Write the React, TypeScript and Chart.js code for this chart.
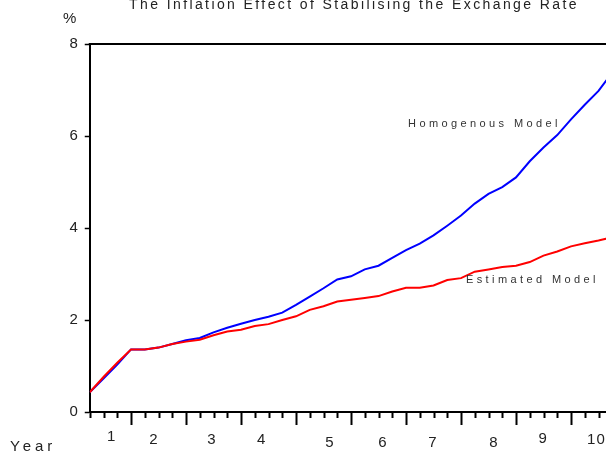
import React, { useEffect, useRef } from "react";
import { Chart, registerables } from "chart.js";

Chart.register(...registerables);

// ---- data (quarters since start; index 0 = first quarter) ----
const quarters: number[] = Array.from({ length: 39 }, (_, i) => i);
const homogenous: number[] = [
  0.43, 0.73, 1.03, 1.36, 1.36, 1.4, 1.48, 1.56, 1.61, 1.73, 1.83, 1.92, 2.0,
  2.07, 2.16, 2.33, 2.51, 2.69, 2.88, 2.95, 3.1, 3.18, 3.35, 3.52, 3.66, 3.84,
  4.05, 4.27, 4.53, 4.74, 4.89, 5.1, 5.45, 5.75, 6.02, 6.36, 6.68, 6.98, 7.38,
];
const estimated: number[] = [
  0.43, 0.76, 1.07, 1.36, 1.36, 1.4, 1.48, 1.53, 1.57, 1.67, 1.75, 1.79, 1.87,
  1.91, 2.0, 2.08, 2.22, 2.3, 2.4, 2.44, 2.48, 2.52, 2.62, 2.7, 2.7, 2.75,
  2.87, 2.91, 3.05, 3.1, 3.15, 3.18, 3.26, 3.4, 3.49, 3.6, 3.67, 3.73, 3.8,
];
const yearLabels: string[] = ["1", "2", "3", "4", "5", "6", "7", "8", "9", "10"];
const yearLabelAt: number[] = [1.6, 4.67, 8.89, 12.5, 17.47, 21.33, 24.96, 29.4, 32.97, 36.85];
const yTicks: number[] = [0, 2, 4, 6, 8];
const titleText = "The Inflation Effect of Stabilising the Exchange Rate";
const seriesNames: string[] = ["Estimated Model", "Homogenous Model"];

const FONT = '"Liberation Sans", Arial, sans-serif';

const overlay = {
  id: "overlay",
  afterDraw(chart: any) {
    const { ctx, chartArea } = chart;
    const x = chart.scales.x;
    const y = chart.scales.y;
    ctx.save();
    // top frame line
    ctx.strokeStyle = "#000";
    ctx.lineWidth = 2;
    ctx.beginPath();
    ctx.moveTo(chartArea.left - 1, chartArea.top);
    ctx.lineTo(chartArea.right + 10, chartArea.top);
    ctx.stroke();
    // quarter tick marks (major at year boundaries)
    const base = chartArea.bottom;
    for (let q = 0; q <= x.max; q++) {
      const px = Math.round(x.getPixelForValue(q)) + 0.5;
      const major = q % 4 === 3;
      ctx.beginPath();
      ctx.moveTo(px, base);
      ctx.lineTo(px, base + (major ? 13 : 6));
      ctx.stroke();
    }
    // year labels
    const rowY = [437, 440, 440, 440, 443, 443, 443, 443, 439, 440];
    ctx.fillStyle = "#222";
    ctx.font = `15px ${FONT}`;
    ctx.textAlign = "center";
    ctx.textBaseline = "middle";
    (ctx as any).letterSpacing = "1px";
    yearLabels.forEach((t, i) => {
      ctx.fillText(t, x.getPixelForValue(yearLabelAt[i]), rowY[i]);
    });
    // axis captions
    (ctx as any).letterSpacing = "4px";
    ctx.textAlign = "left";
    ctx.fillText("Year", 10, 447);
    (ctx as any).letterSpacing = "0px";
    ctx.fillText("%", 63, 19);
    // title
    ctx.font = `14px ${FONT}`;
    (ctx as any).letterSpacing = "2.4px";
    ctx.textAlign = "center";
    ctx.fillText(titleText, 354, 5.5);
    // series labels
    ctx.font = `11px ${FONT}`;
    (ctx as any).letterSpacing = "3.4px";
    ctx.textAlign = "left";
    ctx.fillStyle = "#333";
    ctx.fillText(seriesNames[1], x.getPixelForValue(23.15), y.getPixelForValue(6.26));
    ctx.fillText(seriesNames[0], x.getPixelForValue(27.36), y.getPixelForValue(2.86));
    ctx.restore();
  },
};

export default function App() {
  const ref = useRef<HTMLCanvasElement | null>(null);
  useEffect(() => {
    if (!ref.current) return;
    const chart = new Chart(ref.current, {
      type: "line",
      data: {
        labels: quarters,
        datasets: [
          {
            label: seriesNames[0],
            data: quarters.map((q, i) => ({ x: q, y: estimated[i] })),
            borderColor: "#ff0000",
            borderWidth: 2,
            pointRadius: 0,
            tension: 0,
          },
          {
            label: seriesNames[1],
            data: quarters.map((q, i) => ({ x: q, y: homogenous[i] })),
            borderColor: "#0000ff",
            borderWidth: 2,
            pointRadius: 0,
            tension: 0,
          },
        ],
      },
      options: {
        animation: false,
        responsive: false,
        layout: { padding: { left: 0, right: 7.75, top: 44, bottom: 0 } },
        plugins: {
          legend: { display: false },
          tooltip: { enabled: false },
          title: { display: false },
        },
        scales: {
          x: {
            type: "linear",
            min: 0,
            max: 38,
            ticks: { display: false },
            grid: { display: false },
            border: { display: true, color: "#000", width: 2 },
            afterFit: (s: any) => {
              s.height = 49;
            },
          },
          y: {
            type: "linear",
            min: 0,
            max: 8,
            afterBuildTicks: (s: any) => {
              s.ticks = yTicks.map((v) => ({ value: v }));
            },
            ticks: {
              color: "#222",
              font: { family: FONT, size: 15 },
              padding: 7,
            },
            grid: {
              display: true,
              drawOnChartArea: false,
              drawTicks: true,
              tickLength: 5,
              tickColor: "#000",
              tickWidth: 1.5,
            },
            border: { display: true, color: "#000", width: 2 },
            afterFit: (s: any) => {
              s.width = 89.75;
            },
          },
        },
      },
      plugins: [overlay],
    });
    return () => chart.destroy();
  }, []);
  return (
    <div
      style={{
        position: "absolute",
        left: 0,
        top: 0,
        width: 606,
        height: 461,
        overflow: "hidden",
        background: "#fff",
      }}
    >
      <canvas ref={ref} width={620} height={461} style={{ display: "block" }} />
    </div>
  );
}
